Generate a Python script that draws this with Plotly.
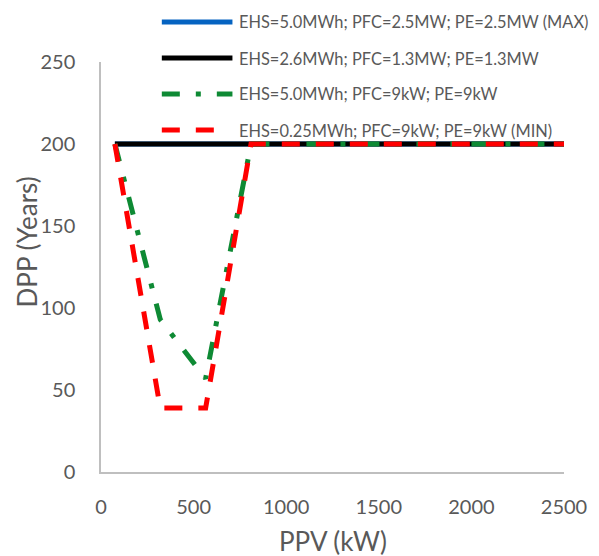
import plotly.graph_objects as go

# ---- data ----
ppv = [75, 320, 565, 810, 2500]
dpp_max = [200, 200, 200, 200, 200]
dpp_mid = [200, 200, 200, 200, 200]
dpp_ehs5_small = [200, 93, 57, 200, 200]
dpp_min = [200, 39, 39, 200, 200]

names = [
    "EHS=5.0MWh; PFC=2.5MW; PE=2.5MW (MAX)",
    "EHS=2.6MWh; PFC=1.3MW; PE=1.3MW",
    "EHS=5.0MWh; PFC=9kW; PE=9kW",
    "EHS=0.25MWh; PFC=9kW; PE=9kW (MIN)",
]
x_ticks = [0, 500, 1000, 1500, 2000, 2500]
y_ticks = [0, 50, 100, 150, 200, 250]

colors = ["#0563C1", "#000000", "#0E8A34", "#FF0000"]
dashes = ["solid", "solid", "18px,16px,5px,16px", "18px,16px"]
series = [dpp_max, dpp_mid, dpp_ehs5_small, dpp_min]

FONT = "Lato, 'Open Sans', sans-serif"
GRAY = "#595959"

W, H = 599, 556
L, R, T, B = 101, 26, 62, 84
PW, PH = W - L - R, H - T - B


def px(xp):
    return (xp - L) / PW


def py(yp):
    return (H - B - yp) / PH


fig = go.Figure()
for name, ys, c, d in zip(names, series, colors, dashes):
    fig.add_trace(go.Scatter(
        x=ppv, y=ys, mode="lines", name=name, showlegend=False,
        line=dict(color=c, width=5, dash=d),
    ))

# manual legend (long line samples like the original)
row_y = [22, 58, 94, 130]
row_end = [235, 235, 235, 222]
shapes = []
annotations = []
for name, c, d, ry, xe in zip(names, colors, dashes, row_y, row_end):
    shapes.append(dict(type="line", xref="paper", yref="paper",
                       x0=px(163), x1=px(xe), y0=py(ry), y1=py(ry),
                       line=dict(color=c, width=5, dash=d)))
    annotations.append(dict(xref="paper", yref="paper", x=px(240), y=py(ry),
                            xanchor="left", yanchor="middle", text=name,
                            showarrow=False,
                            font=dict(family=FONT, size=16.4, color=GRAY)))

annotations.append(dict(xref="paper", yref="paper", x=0.5, y=py(541),
                        xanchor="center", yanchor="middle", text="PPV (kW)",
                        showarrow=False, font=dict(family=FONT, size=26, color=GRAY)))
annotations.append(dict(xref="paper", yref="paper", x=px(26), y=py(242),
                        xanchor="center", yanchor="middle", text="DPP (Years)",
                        textangle=-90, showarrow=False,
                        font=dict(family=FONT, size=26, color=GRAY)))

fig.update_layout(
    width=W, height=H,
    margin=dict(l=L, r=R, t=T, b=B),
    paper_bgcolor="white", plot_bgcolor="white",
    font=dict(family=FONT, color=GRAY),
    shapes=shapes, annotations=annotations,
    xaxis=dict(range=[0, 2500], tickvals=x_ticks, showgrid=False, zeroline=False,
               showline=True, linecolor="#BFBFBF", linewidth=1.5, ticks="",
               ticklabelstandoff=16, tickfont=dict(family=FONT, size=20, color=GRAY)),
    yaxis=dict(range=[0, 250], tickvals=y_ticks, showgrid=False, zeroline=False,
               showline=True, linecolor="#BFBFBF", linewidth=1.5, ticks="",
               ticklabelstandoff=20, tickfont=dict(family=FONT, size=20, color=GRAY)),
)

fig.write_html(
    "out.html",
    config={"displayModeBar": False},
    post_script="document.body.style.margin='0';document.body.style.overflow='hidden';",
)
